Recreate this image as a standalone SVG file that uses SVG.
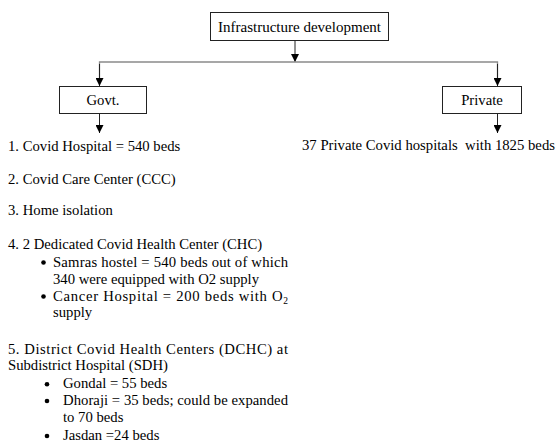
<svg xmlns="http://www.w3.org/2000/svg" width="556" height="444" viewBox="0 0 556 444">
<defs>
<style>
.box{fill:#fff;stroke:#222;stroke-width:1}
.c{text-anchor:middle}
.v{stroke:#222;stroke-width:1;fill:none}
.h{stroke:#8a8a8a;stroke-width:1.3;fill:none}
</style>
<marker id="ah" viewBox="0 0 10 10" refX="10" refY="5" markerWidth="8" markerHeight="8" markerUnits="userSpaceOnUse" orient="auto">
<path d="M0,0 L10,5 L0,10 z" fill="#000"/>
</marker>
</defs>
<rect width="556" height="444" fill="#fff"/>
<g id="connectors">
<line class="v" x1="295" y1="41" x2="295" y2="62" marker-end="url(#ah)"/>
<polyline class="h" points="99.5,85 99.5,62 497.5,62 497.5,85"/>
<line class="v" x1="99.5" y1="64" x2="99.5" y2="86" marker-end="url(#ah)"/>
<line class="v" x1="497.5" y1="64" x2="497.5" y2="86" marker-end="url(#ah)"/>
<line class="v" x1="99.5" y1="113" x2="99.5" y2="133" marker-end="url(#ah)"/>
<line class="v" x1="497.5" y1="113" x2="497.5" y2="133" marker-end="url(#ah)"/>
</g>
<g font-family="'Liberation Serif', 'Times New Roman', 'DejaVu Serif', serif" font-size="14.7" fill="#000">
<g id="root">
<rect class="box" x="210.5" y="12.5" width="178" height="28"/>
<text class="c" x="299.5" y="31.5" textLength="163" lengthAdjust="spacingAndGlyphs">Infrastructure development</text>
</g>
<g id="govt">
<rect class="box" x="59.5" y="86.5" width="87" height="27"/>
<text class="c" x="103" y="105">Govt.</text>
</g>
<g id="private">
<rect class="box" x="442.5" y="86.5" width="79" height="27"/>
<text class="c" x="482" y="105">Private</text>
</g>
<g id="private-list">
<text x="302" y="149.5" xml:space="preserve" textLength="253" lengthAdjust="spacingAndGlyphs">37 Private Covid hospitals  with 1825 beds</text>
</g>
<g id="govt-list">
<text x="8" y="150.5">1. Covid Hospital = 540 beds</text>
<text x="8" y="183.5">2. Covid Care Center (CCC)</text>
<text x="8" y="214.5">3. Home isolation</text>
<text x="8" y="248.5">4. 2 Dedicated Covid Health Center (CHC)</text>
<circle cx="43.5" cy="262.5" r="2.3"/>
<text x="53" y="266.5" textLength="235" lengthAdjust="spacing">Samras hostel = 540 beds out of which</text>
<text x="53" y="283.5">340 were equipped with O2 supply</text>
<circle cx="43.5" cy="296.5" r="2.3"/>
<text x="53" y="300.5" textLength="235" lengthAdjust="spacing">Cancer Hospital = 200 beds with O<tspan font-size="9.5" dy="3">2</tspan></text>
<text x="53" y="317">supply</text>
<text x="8" y="353.5" textLength="280" lengthAdjust="spacing">5. District Covid Health Centers (DCHC) at</text>
<text x="8" y="370">Subdistrict Hospital (SDH)</text>
<circle cx="47" cy="384.3" r="2.3"/>
<text x="63" y="388">Gondal = 55 beds</text>
<circle cx="47" cy="401" r="2.3"/>
<text x="63" y="405" textLength="225" lengthAdjust="spacing">Dhoraji = 35 beds; could be expanded</text>
<text x="63" y="421.5">to 70 beds</text>
<circle cx="47" cy="436" r="2.3"/>
<text x="63" y="440">Jasdan =24 beds</text>
</g>
</g>
</svg>
